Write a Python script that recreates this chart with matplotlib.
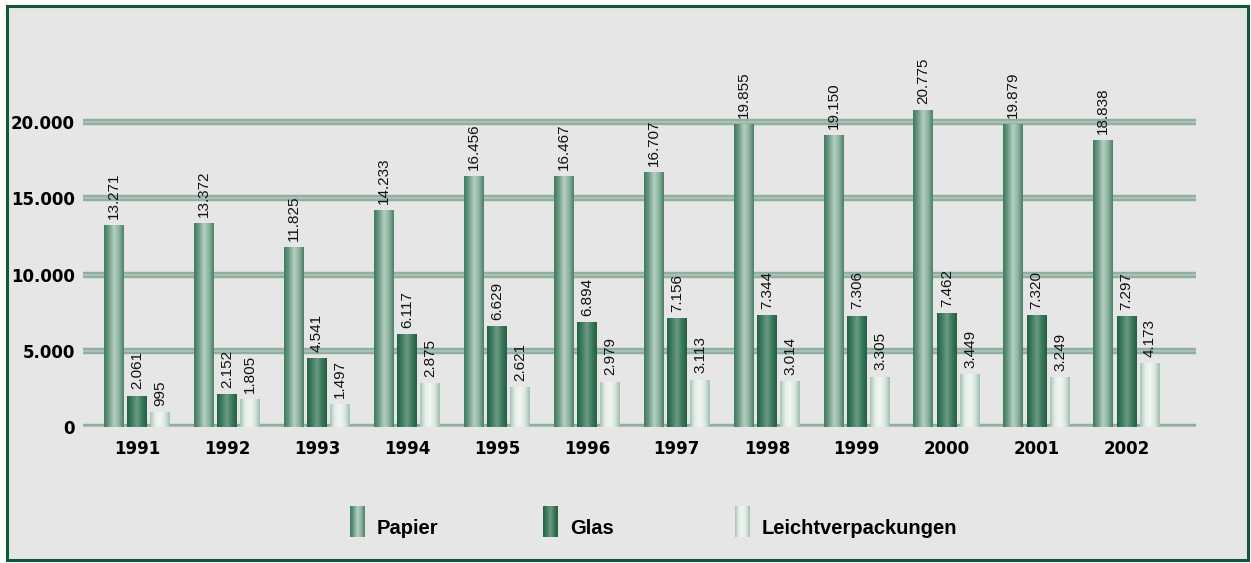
import numpy as np
import matplotlib.pyplot as plt
from matplotlib.colors import LinearSegmentedColormap

years = ['1991', '1992', '1993', '1994', '1995', '1996', '1997', '1998', '1999', '2000', '2001', '2002']
papier = [13271, 13372, 11825, 14233, 16456, 16467, 16707, 19855, 19150, 20775, 19879, 18838]
glas = [2061, 2152, 4541, 6117, 6629, 6894, 7156, 7344, 7306, 7462, 7320, 7297]
leicht = [995, 1805, 1497, 2875, 2621, 2979, 3113, 3014, 3305, 3449, 3249, 4173]
series = ['Papier', 'Glas', 'Leichtverpackungen']
yticks = [0, 5000, 10000, 15000, 20000]


def fmt(v):
    return f'{v:,}'.replace(',', '.')


# horizontal colour ramps imitating the cylindrical bars
ramps = {
    'Papier': ['#3f7a5e', '#6f9c86', '#b4d0c2', '#8fb4a1', '#4a8068'],
    'Glas': ['#1f6446', '#3f7d60', '#6c9a83', '#3c7a5c', '#245f44'],
    'Leichtverpackungen': ['#a6c4b4', '#e4eee8', '#f2f6f3', '#dbe8e0', '#9fc0ae'],
}
cmaps = {k: LinearSegmentedColormap.from_list(k, v) for k, v in ramps.items()}
grad = np.linspace(0, 1, 64).reshape(1, -1)

fig = plt.figure(figsize=(12.51, 5.63), dpi=100)
fig.patch.set_facecolor('white')

# frame / background
bg = fig.add_axes([0, 0, 1, 1])
bg.set_xlim(0, 1251)
bg.set_ylim(563, 0)
bg.axis('off')
bg.add_patch(plt.Rectangle((7, 6), 1241, 554, facecolor='#e6e6e6',
                           edgecolor='#0f5a34', linewidth=2.2))

# plot area: x 83..1196 px, y=0 at 427 px, 20000 at 122 px
W, H = 1251, 563
x0, x1 = 83, 1196
pix_per = 305 / 20000
ytop = 427 - 26000 * pix_per
ax = fig.add_axes([x0 / W, (H - 427) / H, (x1 - x0) / W, (427 - ytop) / H])
ax.patch.set_alpha(0)

x = np.arange(len(years))
bw = 0.22
off = 0.26
ax.set_xlim(-0.6, 11.77)
ax.set_ylim(0, 26000)

for yv in yticks:
    ax.axhline(yv, color='#8fae9e', linewidth=4.6, zorder=1)
    ax.axhline(yv, color='#a9c2b5', linewidth=1.6, zorder=1)

for k, (name, vals) in enumerate(zip(series, [papier, glas, leicht])):
    bars = ax.bar(x + (k - 1) * off, vals, width=bw, color='none', zorder=2)
    for b, v in zip(bars, vals):
        bx, by = b.get_x(), b.get_y()
        im = ax.imshow(grad, cmap=cmaps[name], aspect='auto', zorder=2,
                       extent=[bx, bx + b.get_width(), by, by + b.get_height()])
        im.set_clip_path(b)
        ax.text(b.get_x() + b.get_width() / 2, v + 400, fmt(v), rotation=90,
                ha='center', va='bottom', fontsize=11, color='#111111',
                family='Liberation Sans', zorder=4)

ax.set_yticks(yticks)
ax.set_yticklabels([fmt(v) for v in yticks], fontsize=12, fontweight='bold')
ax.set_xticks(x)
ax.set_xticklabels(years, fontsize=12, fontweight='bold')
ax.tick_params(length=0, pad=9)
ax.tick_params(axis='y', pad=6)
for s in ax.spines.values():
    s.set_visible(False)

# legend
leg_x = [350, 543, 735]
for lx, name in zip(leg_x, series):
    bg.imshow(grad, cmap=cmaps[name], aspect='auto', extent=[lx, lx + 15, 537, 506], zorder=3)
    bg.text(lx + 27, 528, name, fontsize=14.5, fontweight='bold', va='center', ha='left',
            family='Liberation Sans')
bg.set_xlim(0, 1251)
bg.set_ylim(563, 0)

fig.savefig('out.png', dpi=100)
